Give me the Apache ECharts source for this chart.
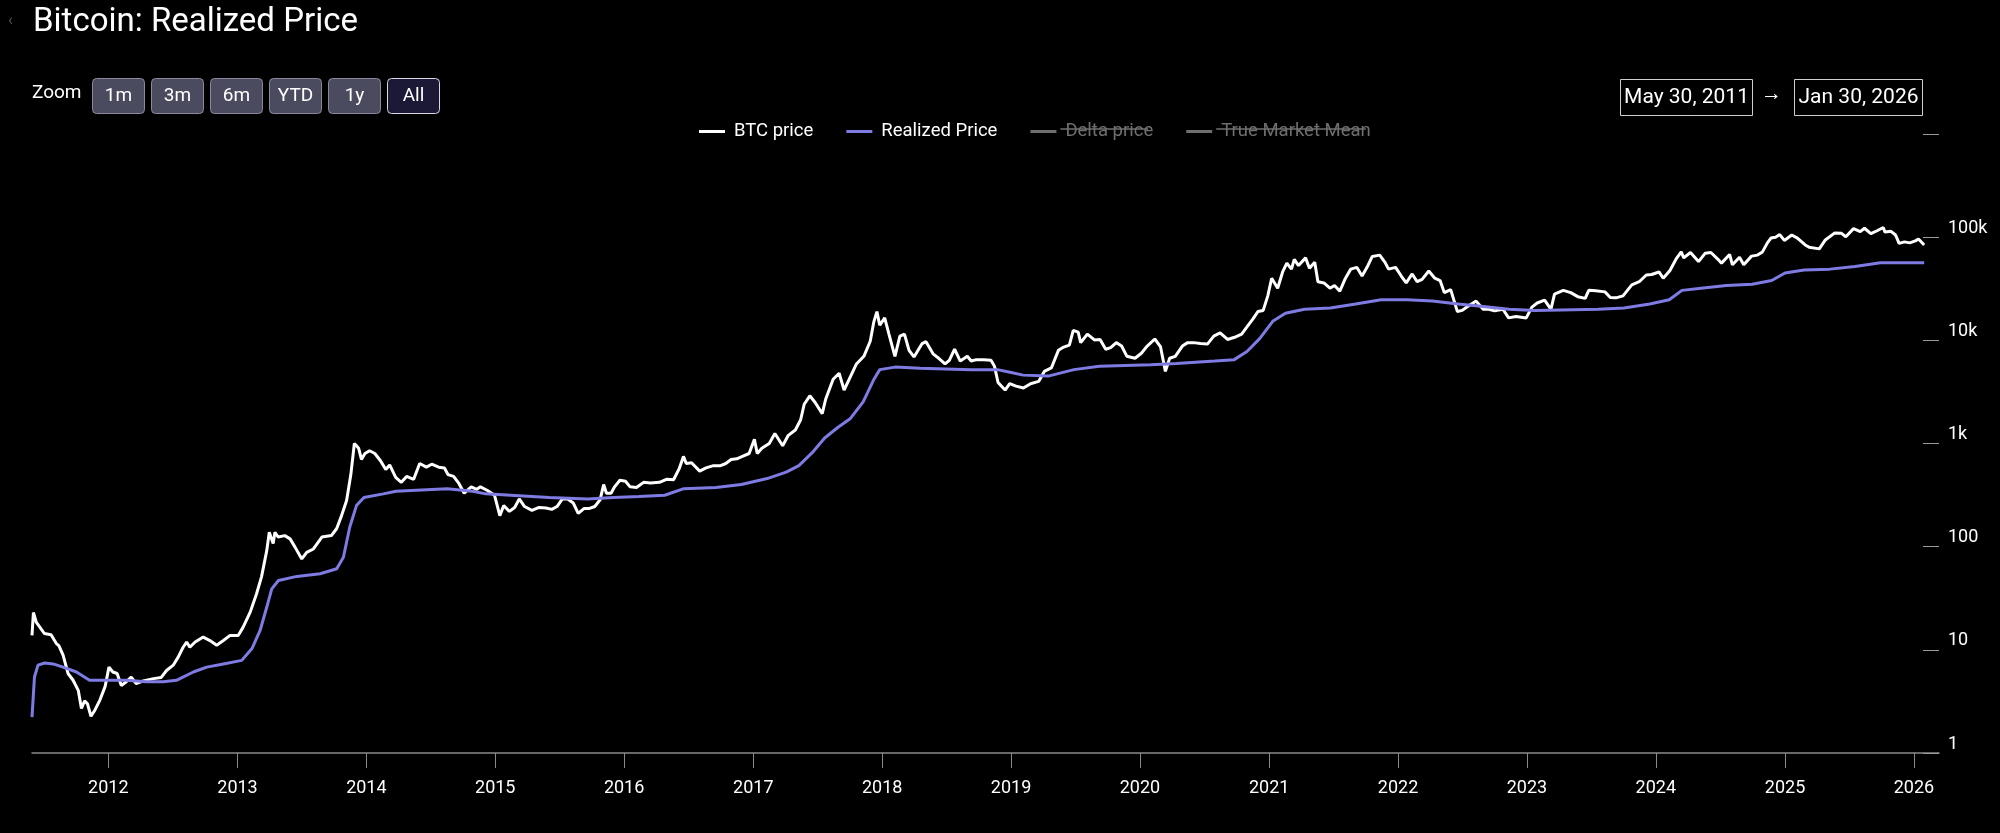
<!DOCTYPE html>
<html>
<head>
<meta charset="utf-8">
<script src="https://cdn.jsdelivr.net/npm/echarts@6/dist/echarts.min.js"></script>
<style>
html,body{margin:0;padding:0;background:#000;}
#chart{width:2000px;height:833px;}
</style>
</head>
<body>
<div id="chart"></div>
<script>
// ---------- data ----------
const btcDates = [
'2011-05-30','2011-06-03','2011-06-11','2011-07-04','2011-07-23','2011-08-07','2011-08-14','2011-08-26','2011-09-09','2011-09-23',
'2011-10-08','2011-10-17','2011-10-26','2011-11-03','2011-11-13','2011-11-24','2011-12-08','2011-12-23','2012-01-03','2012-01-14',
'2012-01-26','2012-02-07','2012-02-21','2012-03-06','2012-03-20','2012-04-09','2012-05-08','2012-05-30','2012-06-14','2012-07-03',
'2012-07-17','2012-07-31','2012-08-10','2012-08-19','2012-09-03','2012-09-26','2012-10-15','2012-11-03','2012-11-22','2012-12-11',
'2013-01-03','2013-01-17','2013-02-06','2013-02-24','2013-03-10','2013-03-25','2013-04-01','2013-04-12','2013-04-17','2013-04-26',
'2013-05-15','2013-05-30','2013-06-13','2013-07-02','2013-07-16','2013-08-04','2013-08-28','2013-09-24','2013-10-09','2013-10-23',
'2013-11-06','2013-11-18','2013-11-28','2013-12-04','2013-12-10','2013-12-18','2013-12-28','2014-01-10','2014-01-25','2014-02-10',
'2014-02-25','2014-03-08','2014-03-25','2014-04-10','2014-04-25','2014-05-15','2014-06-01','2014-06-20','2014-07-05','2014-07-25',
'2014-08-10','2014-08-20','2014-09-05','2014-09-20','2014-10-05','2014-10-25','2014-11-10','2014-11-20','2014-12-10','2014-12-30',
'2015-01-14','2015-01-25','2015-02-10','2015-02-25','2015-03-10','2015-03-25','2015-04-15','2015-05-05','2015-05-25','2015-06-10',
'2015-06-25','2015-07-10','2015-07-25','2015-08-10','2015-08-24','2015-09-10','2015-09-25','2015-10-10','2015-10-25','2015-11-04',
'2015-11-12','2015-11-25','2015-12-05','2015-12-20','2016-01-05','2016-01-18','2016-02-05','2016-02-25','2016-03-15','2016-04-10',
'2016-04-30','2016-05-20','2016-06-05','2016-06-17','2016-06-25','2016-07-10','2016-08-02','2016-08-20','2016-09-10','2016-09-30',
'2016-10-15','2016-10-30','2016-11-15','2016-12-01','2016-12-20','2017-01-04','2017-01-12','2017-01-25','2017-02-15','2017-03-03',
'2017-03-25','2017-04-10','2017-04-30','2017-05-15','2017-05-25','2017-06-10','2017-06-25','2017-07-15','2017-07-25','2017-08-15',
'2017-09-01','2017-09-15','2017-10-01','2017-10-20','2017-11-10','2017-11-28','2017-12-08','2017-12-17','2017-12-25','2018-01-08',
'2018-01-20','2018-02-06','2018-02-20','2018-03-05','2018-03-18','2018-04-01','2018-04-24','2018-05-05','2018-05-25','2018-06-10',
'2018-06-28','2018-07-10','2018-07-25','2018-08-10','2018-08-30','2018-09-10','2018-09-25','2018-10-15','2018-11-05','2018-11-15',
'2018-11-25','2018-12-15','2018-12-28','2019-01-15','2019-02-05','2019-02-25','2019-03-20','2019-04-05','2019-04-25','2019-05-15',
'2019-05-30','2019-06-15','2019-06-26','2019-07-10','2019-07-17','2019-08-05','2019-08-25','2019-09-10','2019-09-26','2019-10-10',
'2019-10-26','2019-11-10','2019-11-25','2019-12-18','2020-01-05','2020-01-20','2020-02-12','2020-02-28','2020-03-13','2020-03-25',
'2020-04-10','2020-04-30','2020-05-15','2020-06-01','2020-06-20','2020-07-10','2020-07-28','2020-08-15','2020-09-05','2020-09-25',
'2020-10-15','2020-10-30','2020-11-15','2020-11-30','2020-12-15','2020-12-28','2021-01-08','2021-01-25','2021-02-08','2021-02-20',
'2021-03-05','2021-03-13','2021-03-25','2021-04-14','2021-04-25','2021-05-10','2021-05-19','2021-06-05','2021-06-22','2021-07-05',
'2021-07-20','2021-08-05','2021-08-20','2021-09-06','2021-09-21','2021-10-05','2021-10-20','2021-11-10','2021-11-25','2021-12-05',
'2021-12-25','2022-01-10','2022-01-24','2022-02-10','2022-02-24','2022-03-10','2022-03-29','2022-04-15','2022-04-30','2022-05-12',
'2022-05-30','2022-06-18','2022-07-01','2022-07-15','2022-08-10','2022-08-30','2022-09-15','2022-10-01','2022-10-25','2022-11-10',
'2022-12-01','2022-12-30','2023-01-15','2023-01-30','2023-02-20','2023-03-10','2023-03-20','2023-04-14','2023-05-05','2023-05-25',
'2023-06-15','2023-06-25','2023-07-15','2023-08-10','2023-08-25','2023-09-10','2023-09-30','2023-10-25','2023-11-15','2023-12-05',
'2023-12-20','2024-01-10','2024-01-22','2024-02-10','2024-02-28','2024-03-13','2024-03-20','2024-04-08','2024-05-01','2024-05-20',
'2024-06-05','2024-06-25','2024-07-05','2024-07-28','2024-08-05','2024-08-25','2024-09-06','2024-09-28','2024-10-15','2024-10-29',
'2024-11-12','2024-11-22','2024-12-05','2024-12-17','2024-12-30','2025-01-20','2025-02-05','2025-02-27','2025-03-10','2025-04-08',
'2025-04-25','2025-05-22','2025-06-10','2025-06-22','2025-07-14','2025-08-02','2025-08-14','2025-09-01','2025-09-20','2025-10-06',
'2025-10-11','2025-10-28','2025-11-10','2025-11-20','2025-12-05','2025-12-20','2026-01-05','2026-01-14','2026-01-30'
];
const btcValues = [
13.8,23,18.6,14.4,14,11.5,11,8.9,5.9,5.1,
4.05,2.7,3.2,3.0,2.27,2.6,3.24,4.4,6.8,6.1,
5.9,4.5,4.9,5.45,4.7,5.0,5.26,5.4,6.3,7.1,
8.5,10.6,11.9,10.6,11.9,13.3,12.3,11.1,12.3,13.8,
13.8,16.6,23.2,35,51,92,138,107,138,124,
128,119,99,76,88,95,124,128,150,201,
280,500,1000,950,900,700,800,850,800,680,
560,620,470,420,480,450,640,590,630,590,
580,500,480,410,330,380,360,380,350,315,
200,250,220,240,290,245,225,240,237,230,
245,290,290,265,210,235,235,245,285,400,
330,330,380,440,430,380,375,420,415,420,
450,445,570,750,640,650,540,580,610,610,
640,700,710,750,800,1100,800,900,1000,1250,
950,1200,1350,1700,2400,2900,2500,1950,2700,4200,
4800,3300,4300,5900,7000,9800,15000,19000,14000,16500,
11500,7000,11000,11500,8000,6900,9300,9700,7400,6700,
5900,6400,8200,6300,7000,6300,6500,6500,6400,5600,
3900,3300,3800,3600,3450,3800,4000,5000,5400,8000,
8600,9000,12500,12000,9500,11500,10100,10200,8200,8500,
9500,8800,7000,6700,7500,8700,10300,8700,5000,6700,
7000,8800,9500,9500,9300,9200,11000,11800,10200,10700,
11500,13500,16000,19000,19500,27000,40000,32000,46000,56000,
49000,61000,53000,63000,50000,57000,37000,36000,32000,34000,
30000,40000,49000,51000,42000,51000,65000,67000,57000,49000,
51000,42000,36000,44000,37000,39000,47000,40000,38000,29000,
31000,19000,19500,21000,24000,20000,20000,19300,20000,16500,
17000,16500,21000,23000,24500,20000,28000,30500,29000,26500,
25500,30500,30300,29500,26000,25800,27000,34500,37000,43000,
43500,46000,40000,47500,62000,72000,63000,71000,58000,70000,
71000,61000,56000,68000,54000,64000,54000,65500,67000,72000,
88000,98000,100000,106000,93000,105000,98000,84000,80000,77000,
94000,110000,109000,101000,121000,113000,122000,108000,116000,124000,
112000,114000,105000,87000,90000,88000,92000,96000,84000
];
const realizedDates = [
'2011-05-30','2011-06-06','2011-06-16','2011-07-05','2011-07-29','2011-08-26','2011-10-03','2011-11-09','2011-12-27','2012-02-21',
'2012-04-18','2012-06-05','2012-07-12','2012-08-29','2012-10-06','2012-11-22','2013-01-13','2013-02-11','2013-03-06','2013-03-25',
'2013-04-08','2013-04-27','2013-06-18','2013-08-23','2013-10-09','2013-10-28','2013-11-15','2013-12-04','2013-12-25','2014-02-18',
'2014-03-26','2014-06-06','2014-08-18','2014-10-29','2014-12-05','2015-02-14','2015-06-03','2015-09-20','2015-12-02','2016-02-12',
'2016-04-25','2016-06-18','2016-09-17','2016-11-28','2017-02-09','2017-04-04','2017-05-10','2017-06-16','2017-07-22','2017-08-28',
'2017-10-03','2017-11-08','2017-12-07','2017-12-25','2018-02-06','2018-04-18','2018-09-11','2018-11-23','2018-12-29','2019-02-04',
'2019-04-16','2019-06-28','2019-09-08','2020-01-31','2020-04-13','2020-07-31','2020-09-24','2020-10-30','2020-12-05','2021-01-11',
'2021-02-16','2021-04-11','2021-06-23','2021-09-03','2021-11-14','2022-01-26','2022-04-08','2022-06-20','2022-08-31','2022-11-11',
'2023-01-23','2023-07-22','2023-10-03','2023-12-15','2024-02-08','2024-03-15','2024-05-08','2024-07-19','2024-09-30','2024-11-24',
'2025-01-01','2025-02-24','2025-05-08','2025-07-18','2025-09-28','2026-01-30'
];
const realizedValues = [
2.23,5.45,7.1,7.45,7.3,6.8,6.1,5.06,5.06,5.06,
4.9,4.9,5.06,6.1,6.8,7.3,7.9,10.3,15.4,26,
39,47,51.5,54.7,61,79,155,250,300,325,
345,355,365,345,325,315,300,290,300,306,
315,365,375,400,457,527,610,810,1130,1430,
1750,2530,4100,5200,5500,5350,5200,5200,4900,4600,
4500,5200,5600,5800,5950,6300,6500,7800,10400,15300,
18300,20000,20600,22500,24700,24700,24000,22500,21300,20000,
19500,20000,20600,22500,24700,30500,32000,34000,35000,38000,
45000,48000,49000,52000,56500,56500
];
const legendNames = ['BTC price','Realized Price','Delta price','True Market Mean'];
const zoomButtons = ['1m','3m','6m','YTD','1y','All'];
const dateRange = ['May 30, 2011','Jan 30, 2026'];
const yTickLabels = {1:'1',10:'10',100:'100',1000:'1k',10000:'10k',100000:'100k',1000000:''};

// ---------- build ----------
const FONT = 'Roboto, "Noto Sans", sans-serif';
const chart = echarts.init(document.getElementById('chart'), null, {renderer:'canvas'});
const zip = (d, v) => d.map((x, i) => [x, v[i]]);

// measure legend text to place the strike-through lines
const LEG_FS = 18.5;
const mctx = document.createElement('canvas').getContext('2d');
mctx.font = LEG_FS + 'px Roboto';
const LEG_LEFT = 694, LEG_ICON = 26, LEG_PAD = 4, LEG_GAP = 33, LEG_Y = 128;
let lx = LEG_LEFT;
const strikes = [];
legendNames.forEach((n, i) => {
  const tx = lx + LEG_ICON + 5 + LEG_PAD;
  const w = mctx.measureText(n).width;
  if (i >= 2) strikes.push({x1: tx, x2: tx + w});
  lx = tx + w + LEG_GAP;
});

const graphics = [];
graphics.push({type:'text', left:8, top:13, style:{text:'‹', fill:'#555', font:'16px ' + FONT}});
graphics.push({type:'text', left:32, top:84, style:{text:'Zoom', fill:'#fff', font:'19px ' + FONT}});
const btnX = [92,151,210,269,328,387];
zoomButtons.forEach((b, i) => {
  const sel = b === 'All';
  graphics.push({type:'group', left:btnX[i], top:78, children:[
    {type:'rect', shape:{x:0,y:0,width:52,height:35,r:4},
     style:{fill: sel ? '#1b1935' : '#4b4b5f', stroke: sel ? '#d8d8e4' : '#8a8a9c', lineWidth:1}},
    {type:'text', style:{text:b, x:26, y:17.5, align:'center', verticalAlign:'middle', fill:'#fff', font:'19px ' + FONT}}
  ]});
});
const boxX = [[1620,1752],[1794,1922]];
dateRange.forEach((d, i) => {
  graphics.push({type:'group', left:boxX[i][0], top:79, children:[
    {type:'rect', shape:{x:0,y:0,width:boxX[i][1]-boxX[i][0],height:36},
     style:{fill:'#000', stroke:'#cfcfcf', lineWidth:1}},
    {type:'text', style:{text:d, x:(boxX[i][1]-boxX[i][0])/2, y:18, align:'center', verticalAlign:'middle', fill:'#fff', font:'21px ' + FONT}}
  ]});
});
graphics.push({type:'text', left:1761, top:84, style:{text:'→', fill:'#fff', font:'bold 21px ' + FONT}});
strikes.forEach(s => {
  graphics.push({type:'line', shape:{x1:s.x1, y1:LEG_Y + 1, x2:s.x2, y2:LEG_Y + 1}, style:{stroke:'#707070', lineWidth:1.3}, z:100});
});

const option = {
  backgroundColor: '#000',
  animation: false,
  title: {text:'Bitcoin: Realized Price', left:28, top:1,
    textStyle:{color:'#fff', fontSize:33, fontWeight:'normal', fontFamily:FONT}},
  legend: {
    data: legendNames, left: LEG_LEFT, top: LEG_Y - 11, icon:'rect', itemWidth: LEG_ICON, itemHeight: 3,
    itemGap: LEG_GAP, inactiveColor:'#6e6e6e',
    textStyle:{color:'#fff', fontSize:LEG_FS, fontFamily:FONT, padding:[0,0,0,LEG_PAD]},
    selected: {'Delta price': false, 'True Market Mean': false}
  },
  grid: {left:32, right:61, top:134, bottom:80, containLabel:false},
  xAxis: {
    type:'time', min:'2011-05-30', max:'2026-03-13', splitNumber: 15,
    axisLine:{show:true, lineStyle:{color:'#8a8a8a', width:1.5}},
    axisTick:{show:true, length:15, lineStyle:{color:'#8a8a8a'}},
    axisLabel:{color:'#fff', fontSize:18, fontFamily:FONT, margin:26, showMinLabel:false, showMaxLabel:false,
      formatter: v => String(new Date(v).getFullYear())},
    splitLine:{show:false}
  },
  yAxis: {
    type:'log', logBase:10, min:1, max:1000000, position:'right',
    axisLine:{show:false},
    axisTick:{show:true, inside:true, length:16, lineStyle:{color:'#9a9a9a', width:1}},
    axisLabel:{color:'#fff', fontSize:18, fontFamily:FONT, margin:9, verticalAlign:'bottom',
      formatter: v => (yTickLabels[Math.round(v)] !== undefined ? yTickLabels[Math.round(v)] : '')},
    splitLine:{show:false}, minorTick:{show:false}
  },
  series: [
    {name:'BTC price', type:'line', data: zip(btcDates, btcValues), showSymbol:false, symbol:'none',
      lineStyle:{color:'#ffffff', width:3}, itemStyle:{color:'#ffffff'}, z:3},
    {name:'Realized Price', type:'line', data: zip(realizedDates, realizedValues), showSymbol:false, symbol:'none',
      lineStyle:{color:'#7e7be3', width:3}, itemStyle:{color:'#7e7be3'}, z:4},
    {name:'Delta price', type:'line', data: [], showSymbol:false, itemStyle:{color:'#e0a040'}},
    {name:'True Market Mean', type:'line', data: [], showSymbol:false, itemStyle:{color:'#40c0a0'}}
  ],
  graphic: graphics
};
chart.setOption(option);
</script>
</body>
</html>
